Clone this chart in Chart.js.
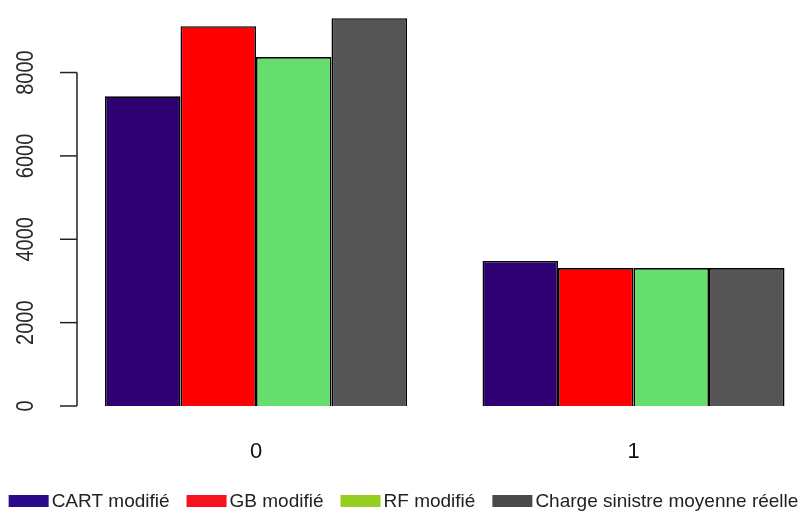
<!DOCTYPE html>
<html>
<head>
<meta charset="utf-8">
<script src="https://cdn.jsdelivr.net/npm/chart.js@4/dist/chart.umd.min.js"></script>
<style>
    html, body { margin: 0; padding: 0; background: #fff; overflow: hidden; }
    #wrap { width: 803px; height: 512px; position: relative; }
</style>
</head>
<body>
<div id="wrap"><canvas id="barChart"></canvas></div>
<script>
// categories (group labels on the x axis)
const categories = ["0", "1"];
// series
const seriesNames = ["CART modifié", "GB modifié", "RF modifié", "Charge sinistre moyenne réelle"];
const cartValues = [7430, 3480];
const gbValues = [9110, 3310];
const rfValues = [8370, 3310];
const chargeValues = [9305, 3310];
// y tick labels
const yTicks = [0, 2000, 4000, 6000, 8000];

const barColors = ["#2e0072", "#ff0000", "#66de6e", "#555555"];
const legendColors = ["#2b0b8c", "#f5141e", "#96cf22", "#4a4a4a"];

document.addEventListener("DOMContentLoaded", () => {
    const allSeries = [cartValues, gbValues, rfValues, chargeValues];

    // linear x so the two groups can sit where R's barplot puts them
    const datasets = allSeries.map((vals, s) => ({
        label: seriesNames[s],
        data: vals.map((v, i) => ({ x: i, y: v })),
        backgroundColor: barColors[s],
        borderColor: "#000",
        borderWidth: 1.6,
        categoryPercentage: 0.8,
        barPercentage: 1.0,
    }));

    // R style y axis: line only from first to last tick, rotated labels
    const rAxis = {
        id: "rAxis",
        afterDraw(chart) {
            const ctx = chart.ctx;
            const y = chart.scales.y;
            const left = chart.chartArea.left;
            ctx.save();
            ctx.strokeStyle = "#222";
            ctx.lineWidth = 1.5;
            ctx.beginPath();
            ctx.moveTo(left, y.getPixelForValue(yTicks[0]));
            ctx.lineTo(left, y.getPixelForValue(yTicks[yTicks.length - 1]));
            ctx.stroke();
            ctx.fillStyle = "#2a2a2a";
            ctx.font = "20px 'Liberation Sans', Arial, sans-serif";
            ctx.textAlign = "center";
            ctx.textBaseline = "middle";
            yTicks.forEach((t) => {
                const py = y.getPixelForValue(t);
                ctx.beginPath();
                ctx.moveTo(left - 17, py);
                ctx.lineTo(left, py);
                ctx.stroke();
                ctx.save();
                ctx.translate(27, py);
                ctx.rotate(-Math.PI / 2);
                ctx.scale(1, 1.15);
                ctx.fillText(String(t), 0, 0);
                ctx.restore();
            });

            // legend row at the bottom
            ctx.font = "19px 'Liberation Sans', Arial, sans-serif";
            ctx.textAlign = "left";
            const boxW = 40, boxH = 12, gap = 3, space = 17;
            const widths = seriesNames.map((n) => boxW + gap + ctx.measureText(n).width);
            const total = widths.reduce((a, b) => a + b, 0) + space * (widths.length - 1);
            let x = (chart.width - total) / 2 + 2;
            const ly = 501;
            seriesNames.forEach((n, i) => {
                ctx.fillStyle = legendColors[i];
                ctx.fillRect(x, ly - boxH / 2, boxW, boxH);
                ctx.fillStyle = "#222";
                ctx.fillText(n, x + boxW + gap, ly + 1);
                x += widths[i] + space;
            });
            ctx.restore();
        },
    };

    const ctx = document.getElementById("barChart").getContext("2d");
    new Chart(ctx, {
        type: "bar",
        data: { datasets: datasets },
        options: {
            responsive: true,
            maintainAspectRatio: false,
            animation: false,
            layout: { padding: { top: 0, right: 0, left: 0, bottom: 46 } },
            plugins: {
                legend: { display: false },
                tooltip: { enabled: false },
            },
            scales: {
                x: {
                    type: "linear",
                    offset: false,
                    min: -0.4742,
                    max: 1.449,
                    grid: { display: false, drawTicks: false, offset: false },
                    border: { display: false },
                    ticks: {
                        stepSize: 1,
                        includeBounds: false,
                        padding: 33,
                        color: "#111",
                        font: { size: 22, family: "'Liberation Sans', Arial, sans-serif" },
                        callback: (v) => categories[v] !== undefined ? categories[v] : "",
                    },
                    afterFit: (scale) => { scale.height = 60; },
                },
                y: {
                    min: 0,
                    max: 9740,
                    grid: { display: false, drawTicks: false },
                    border: { display: false },
                    ticks: { display: false, stepSize: 2000, includeBounds: false },
                    afterFit: (scale) => { scale.width = 77; },
                },
            },
        },
        plugins: [rAxis],
    });
});
</script>
</body>
</html>
